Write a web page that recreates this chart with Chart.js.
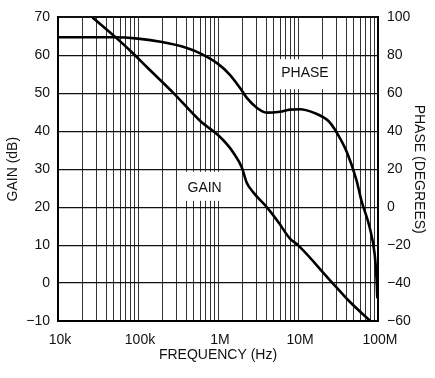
<!DOCTYPE html>
<html>
<head>
<meta charset="utf-8">
<script src="https://cdn.jsdelivr.net/npm/chart.js"></script>
<style>
  html, body { margin: 0; padding: 0; background: #fff; }
</style>
</head>
<body>
<canvas id="myChart" width="435" height="378"></canvas>
<script>
// data
const gainFreq = [27e3, 51e3, 87e3, 128e3, 280e3, 600e3, 1.0e6, 1.29e6, 1.55e6, 1.98e6, 2.28e6, 2.76e6, 4.07e6, 5.7e6, 7.94e6, 1.0e7, 2.5e7, 4.47e7, 8.0e7];
const gainDb   = [70, 65, 60.5, 57, 50, 42.7, 39, 36.6, 34.4, 30.5, 26.5, 23.9, 20, 16, 11.7, 10, 0.8, -5, -10];

const phaseFreq = [1e4, 5e4, 1e5, 2e5, 4e5, 6e5, 1e6, 1.4e6, 1.88e6, 2.28e6, 3.05e6, 4.07e6, 5.95e6, 7.94e6, 1.06e7, 1.56e7, 2.4e7, 3.05e7, 4.1e7, 5.4e7, 6.2e7, 7.9e7, 9.1e7, 9.6e7, 9.8e7];
const phaseDeg  = [89.5, 89.5, 88.8, 87, 84, 81, 75.5, 69.9, 62.9, 57.7, 52.4, 49.8, 50.3, 51.4, 51.6, 49.8, 45.4, 39.3, 28.8, 14, 3.5, -11, -25, -38, -48];

// x axis: decade labels
const decadeValues = [1e4, 1e5, 1e6, 1e7, 1e8];
const decadeLabels = ['10k', '100k', '1M', '10M', '100M'];

// text labels inside the plot
const curveLabels = [
  { text: 'PHASE', x: 1.22e7, y: 70.6, axis: 'yPhase', boxW: 60, boxUp: 14, boxDown: 16 },
  { text: 'GAIN',  x: 6.8e5,  y: 25.1, axis: 'yGain',  boxW: 54, boxUp: 16, boxDown: 13 }
];

const FONT = "'Liberation Sans', Arial, sans-serif";
Chart.defaults.font.family = FONT;
Chart.defaults.font.size = 14;
Chart.defaults.color = '#111';

// all log grid positions 1..9 x 10^n
const gridValues = [];
for (let e = 4; e < 8; e++) {
  for (let m = 1; m < 10; m++) gridValues.push(m * Math.pow(10, e));
}
gridValues.push(1e8);

const toMinus = v => String(v).replace('-', '\u2212');

const labelPlugin = {
  id: 'curveLabels',
  beforeDatasetsDraw(chart) {
    const ctx = chart.ctx;
    const xs = chart.scales.x;
    ctx.save();
    ctx.font = '14px ' + FONT;
    ctx.textAlign = 'center';
    ctx.textBaseline = 'middle';
    curveLabels.forEach(l => {
      const px = xs.getPixelForValue(l.x);
      const py = chart.scales[l.axis].getPixelForValue(l.y);
      ctx.fillStyle = '#fff';
      ctx.fillRect(px - l.boxW / 2, py - l.boxUp, l.boxW, l.boxUp + l.boxDown);
      ctx.fillStyle = '#111';
      ctx.fillText(l.text, px, py);
    });
    ctx.restore();
  }
};

new Chart(document.getElementById('myChart'), {
  type: 'scatter',
  data: {
    datasets: [
      {
        label: 'GAIN',
        data: gainFreq.map((f, i) => ({ x: f, y: gainDb[i] })),
        yAxisID: 'yGain',
        showLine: true,
        borderColor: '#000',
        borderWidth: 2.6,
        pointRadius: 0,
        cubicInterpolationMode: 'monotone'
      },
      {
        label: 'PHASE',
        data: phaseFreq.map((f, i) => ({ x: f, y: phaseDeg[i] })),
        yAxisID: 'yPhase',
        showLine: true,
        borderColor: '#000',
        borderWidth: 2.6,
        pointRadius: 0,
        cubicInterpolationMode: 'monotone'
      }
    ]
  },
  options: {
    responsive: false,
    devicePixelRatio: 1,
    animation: false,
    layout: { padding: { top: 16, left: 0, right: 0, bottom: 0 } },
    plugins: { legend: { display: false }, tooltip: { enabled: false } },
    scales: {
      x: {
        type: 'logarithmic',
        min: 1e4,
        max: 1e8,
        afterBuildTicks: s => { s.ticks = gridValues.map(v => ({ value: v })); },
        afterFit: s => { s.height = 57; },
        ticks: {
          autoSkip: false,
          maxRotation: 0,
          padding: 11,
          labelOffset: 2,
          color: '#111',
          callback: v => {
            const i = decadeValues.indexOf(v);
            return i >= 0 ? decadeLabels[i] : '';
          }
        },
        grid: { color: '#333', lineWidth: 1, drawTicks: false },
        border: { color: '#000', width: 2 },
        title: { display: true, text: 'FREQUENCY (Hz)', padding: { top: 0, bottom: 14 } }
      },
      yGain: {
        position: 'left',
        min: -10,
        max: 70,
        afterFit: s => { s.width = 58; },
        ticks: { stepSize: 10, padding: 8, callback: toMinus },
        grid: {
          color: '#111',
          lineWidth: c => (c.tick && c.tick.value === 70 ? 2 : 1.2),
          drawTicks: false
        },
        border: { color: '#000', width: 2 },
        title: { display: true, text: 'GAIN (dB)', padding: { top: 5, bottom: 0 } }
      },
      yPhase: {
        position: 'right',
        min: -60,
        max: 100,
        afterFit: s => { s.width = 57; },
        ticks: { stepSize: 20, padding: 9, callback: toMinus },
        grid: { display: false, drawTicks: false },
        border: { color: '#000', width: 2 },
        title: { display: true, text: 'PHASE (DEGREES)', padding: { top: 8, bottom: 0 } }
      }
    }
  },
  plugins: [labelPlugin]
});
</script>
</body>
</html>
